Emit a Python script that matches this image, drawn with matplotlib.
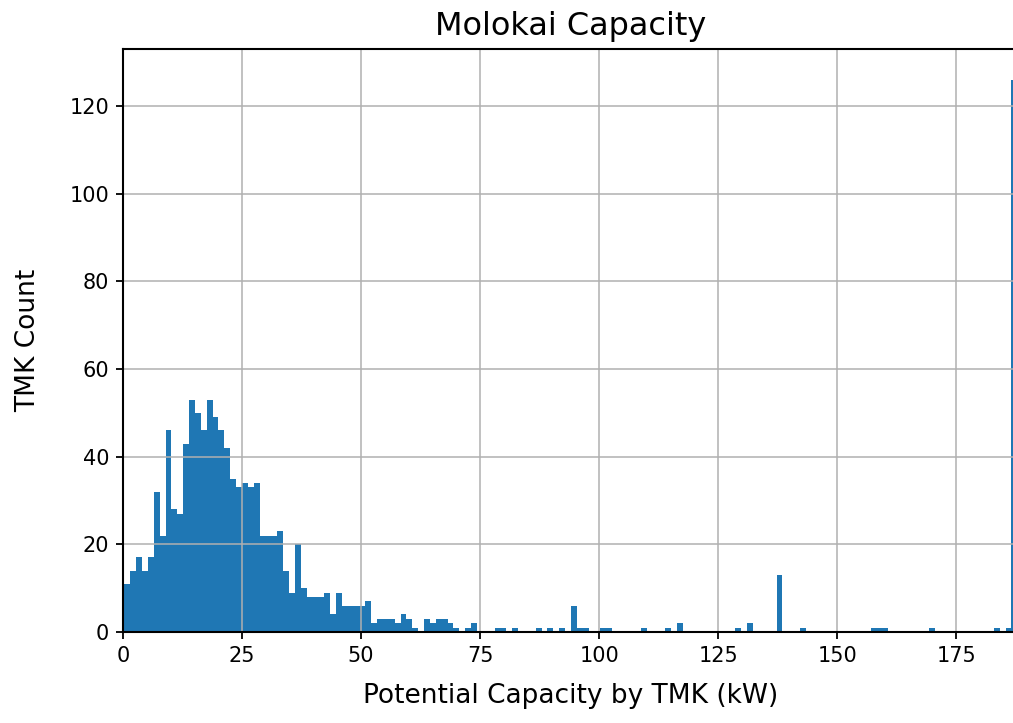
import numpy as np
import matplotlib
matplotlib.use("Agg")
import matplotlib.pyplot as plt

# Histogram counts per bin
counts = [
    11, 14, 17, 14, 17, 32, 22, 46, 28, 27, 43, 53, 50, 46, 53, 49, 46, 42, 35, 33, 34, 33, 34,
    22, 22, 22, 23, 14, 9, 20, 10, 8, 8, 8, 9, 4, 9,
    6, 6, 6, 6, 7, 2, 3, 3, 3, 2, 4, 3, 1, 0,
    3, 2, 3, 3, 2, 1, 0, 1, 2, 0, 0, 0, 1, 1, 0, 1, 0, 0, 0, 1, 0, 1, 0, 1, 0,
    6, 1, 1, 0, 0, 1, 1, 0, 0, 0, 0, 0, 1, 0, 0, 0, 1, 0, 2,
    0, 0, 0, 0, 0, 0, 0, 0, 0, 1, 0, 2, 0, 0, 0, 0, 13, 0, 0, 0, 1,
    0, 0, 0, 0, 0, 0, 0, 0, 0, 0, 0, 1, 1, 1, 0, 0, 0, 0, 0, 0, 0, 1,
    0, 0, 0, 0, 0, 0, 0, 0, 0, 0, 1, 0, 1, 126,
]
bin_start = 0.3
bin_width = 1.234
x_ticks = [0, 25, 50, 75, 100, 125, 150, 175]
y_ticks = [0, 20, 40, 60, 80, 100, 120]

edges = bin_start + bin_width * np.arange(len(counts) + 1)
centers = (edges[:-1] + edges[1:]) / 2

fig = plt.figure(figsize=(10.13, 7.23), dpi=100)
# right spine sits just past the figure edge, like the cropped original
ax = fig.add_axes([123 / 1013, 91 / 723, 895 / 1013, 583 / 723])
ax.hist(centers, bins=edges, weights=counts, color="#1f77b4")

ax.set_xlim(0, 188)
ax.set_ylim(0, 133)
ax.set_xticks(x_ticks)
ax.set_yticks(y_ticks)
ax.grid(True, color="#b0b0b0", linewidth=1.1)

for sp in ax.spines.values():
    sp.set_linewidth(1.5)
ax.tick_params(labelsize=15, length=5, width=1.3, pad=5)

ax.set_title("Molokai Capacity", fontsize=23, pad=10)
ax.set_xlabel("Potential Capacity by TMK (kW)", fontsize=19, labelpad=12)
ax.set_ylabel("TMK Count", fontsize=19, labelpad=20)

fig.savefig("out.png", dpi=100)
